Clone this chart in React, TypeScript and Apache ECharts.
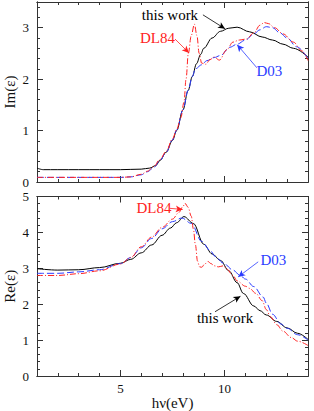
import React, { useEffect, useRef } from "react";
import * as echarts from "echarts";

// ---------- Data: top panel, Im(eps) ----------
const IM_TW_X = [1, 1.3, 2, 3, 4, 5, 6, 6.4, 6.7, 6.9, 7.2, 7.5, 7.7, 8.0, 8.25, 8.45, 8.65, 8.85, 9.0, 9.4, 9.8, 10.2, 10.6, 11.2, 11.8, 12.3, 12.8, 13.3, 14];
const IM_TW_Y = [0.27, 0.24, 0.24, 0.24, 0.24, 0.24, 0.25, 0.27, 0.32, 0.42, 0.58, 0.81, 1.0, 1.4, 1.78, 2.05, 2.3, 2.48, 2.6, 2.8, 2.93, 2.99, 3.01, 2.92, 2.82, 2.76, 2.68, 2.6, 2.43];

const IM_D03_X = [1, 3, 5, 5.5, 6.0, 6.3, 6.6, 6.9, 7.2, 7.5, 7.7, 8.0, 8.25, 8.45, 8.6, 8.9, 9.15, 9.5, 9.8, 10.25, 10.6, 11.0, 11.4, 11.7, 12.0, 12.3, 12.65, 13.0, 13.45, 14];
const IM_D03_Y = [0.09, 0.09, 0.09, 0.1, 0.14, 0.2, 0.28, 0.42, 0.58, 0.82, 1.01, 1.4, 1.78, 2.05, 2.2, 2.28, 2.36, 2.42, 2.46, 2.62, 2.68, 2.76, 2.88, 2.96, 3.02, 3.0, 2.9, 2.8, 2.63, 2.4];

const IM_DL84_X = [1, 3, 5, 5.5, 6.0, 6.3, 6.6, 6.9, 7.2, 7.5, 7.7, 7.9, 8.05, 8.15, 8.26, 8.4, 8.55, 8.67, 8.78, 8.9, 9.1, 9.3, 9.5, 9.75, 10.1, 10.4, 10.7, 11.05, 11.4, 11.7, 11.9, 12.1, 12.4, 12.8, 13.3, 13.7, 14];
const IM_DL84_Y = [0.09, 0.09, 0.09, 0.1, 0.15, 0.21, 0.3, 0.44, 0.6, 0.84, 1.02, 1.25, 1.55, 2.0, 2.5, 2.85, 3.07, 2.85, 2.5, 2.31, 2.29, 2.38, 2.43, 2.37, 2.57, 2.72, 2.76, 2.78, 2.9, 3.05, 3.1, 3.08, 3.0, 2.88, 2.72, 2.55, 2.36];

// ---------- Data: bottom panel, Re(eps) ----------
const RE_TW_X = [1, 2, 3, 4, 5, 5.5, 6.0, 6.5, 7.0, 7.4, 7.7, 8.05, 8.5, 9.0, 9.4, 9.8, 10.2, 10.6, 10.9, 11.4, 11.7, 12.0, 12.5, 13.0, 13.5, 14];
const RE_TW_Y = [2.99, 2.95, 2.96, 3.02, 3.14, 3.25, 3.43, 3.65, 3.92, 4.12, 4.27, 4.44, 4.25, 3.67, 3.4, 3.22, 2.93, 2.6, 2.3, 1.95, 1.82, 1.7, 1.52, 1.34, 1.19, 1.02];

const RE_D03_X = [1, 2, 3, 4, 5, 5.5, 6.0, 6.5, 7.0, 7.5, 7.95, 8.4, 8.9, 9.3, 9.55, 9.95, 10.4, 10.75, 11.0, 11.4, 11.85, 12.0, 12.3, 12.7, 13.0, 13.5, 14];
const RE_D03_Y = [2.86, 2.86, 2.9, 2.96, 3.13, 3.3, 3.57, 3.83, 4.1, 4.3, 4.4, 4.25, 3.75, 3.5, 3.33, 3.14, 2.95, 2.8, 2.7, 2.49, 2.2, 2.03, 1.72, 1.45, 1.33, 1.15, 1.0];

const RE_DL84_X = [1, 2, 3, 4, 5, 5.5, 6.0, 6.5, 7.0, 7.5, 7.8, 8.0, 8.1, 8.25, 8.4, 8.5, 8.6, 8.7, 8.8, 8.9, 9.05, 9.2, 9.35, 9.5, 9.7, 9.95, 10.1, 10.4, 10.6, 11.0, 11.2, 11.5, 11.8, 12.0, 12.2, 12.5, 12.8, 13.2, 13.5, 14];
const RE_DL84_Y = [2.8, 2.8, 2.85, 2.93, 3.12, 3.3, 3.6, 3.87, 4.14, 4.37, 4.55, 4.72, 4.81, 4.7, 4.45, 4.1, 3.65, 3.2, 3.04, 3.03, 3.12, 3.19, 3.13, 3.07, 3.04, 3.07, 2.98, 2.8, 2.65, 2.5, 2.44, 2.3, 2.1, 1.85, 1.65, 1.43, 1.25, 1.07, 0.97, 0.85];

// ---------- Axes ----------
const X_MIN = 1;
const X_MAX = 14;
const X_MAJOR = [5, 10];
const IM_MAX = 3.5;
const RE_MAX = 5;
const IM_MAJOR = [0, 1, 2, 3];
const RE_MAJOR = [0, 1, 2, 3, 4, 5];

// ---------- Annotations (data coords): [text, textX, textY, arrowFromX, arrowFromY, arrowToX, arrowToY] ----------
type Note = [string, number, number, number, number, number, number];
const IM_LABELS: Note[] = [
  ["this work", 7.38, 3.25, 8.96, 3.25, 10.02, 2.98],
  ["DL84", 6.78, 2.8, 7.62, 2.78, 8.29, 2.51],
  ["D03", 12.15, 2.16, 11.55, 2.22, 10.6, 2.67],
];
const RE_LABELS: Note[] = [
  ["this work", 10.02, 1.62, 9.54, 1.79, 10.76, 2.22],
  ["DL84", 6.61, 4.67, 7.38, 4.67, 7.99, 4.64],
  ["D03", 12.34, 3.23, 11.61, 3.18, 10.65, 2.76],
];

const BLACK = "#000000";
const BLUE = "#2b3cff";
const RED = "#ff2222";
const AXIS = "#333333";
const FONT = "'Liberation Serif', 'DejaVu Serif', serif";

function zip(xs: number[], ys: number[]) {
  return xs.map((x, i) => [x, ys[i]]);
}

function range(step: number, max: number) {
  const out: number[] = [];
  const n = Math.round(max / step);
  for (let i = 0; i <= n; i++) out.push(+(i * step).toFixed(4));
  return out;
}

function xAxes(grid: number, labels: boolean) {
  const base = {
    gridIndex: grid,
    type: "value",
    min: X_MIN,
    max: X_MAX,
    splitLine: { show: false },
    axisLine: { show: true, onZero: false, lineStyle: { color: AXIS, width: 1 } },
  };
  const minorVals = range(1, X_MAX).filter((v) => v >= X_MIN);
  return [
    {
      ...base,
      position: "bottom",
      axisTick: { show: true, inside: true, length: 6, customValues: X_MAJOR, lineStyle: { color: AXIS } },
      axisLabel: {
        show: labels,
        customValues: X_MAJOR,
        margin: 6,
        color: "#111",
        fontFamily: FONT,
        fontSize: 13,
      },
      name: labels ? "h\u03bd(eV)" : "",
      nameLocation: "middle",
      nameGap: 19,
      nameMoveOverlap: false,
      nameTextStyle: { color: "#111", fontFamily: FONT, fontSize: 15 },
    },
    {
      ...base,
      position: "bottom",
      axisTick: { show: true, inside: true, length: 3, customValues: minorVals, lineStyle: { color: AXIS } },
      axisLabel: { show: false },
    },
    {
      ...base,
      position: "top",
      axisTick: { show: true, inside: true, length: 6, customValues: X_MAJOR, lineStyle: { color: AXIS } },
      axisLabel: { show: false },
    },
    {
      ...base,
      position: "top",
      axisTick: { show: true, inside: true, length: 3, customValues: minorVals, lineStyle: { color: AXIS } },
      axisLabel: { show: false },
    },
  ];
}

function yAxes(grid: number, max: number, major: number[], name: string) {
  const base = {
    gridIndex: grid,
    type: "value",
    min: 0,
    max,
    splitLine: { show: false },
    axisLine: { show: true, onZero: false, lineStyle: { color: AXIS, width: 1 } },
  };
  const minorVals = range(0.2, max);
  return [
    {
      ...base,
      position: "left",
      axisTick: { show: true, inside: true, length: 6, customValues: major, lineStyle: { color: AXIS } },
      axisLabel: {
        show: true,
        customValues: major,
        margin: 8,
        color: "#111",
        fontFamily: FONT,
        fontSize: 13,
      },
      name,
      nameLocation: "middle",
      nameGap: 20,
      nameRotate: 90,
      nameMoveOverlap: false,
      nameTextStyle: { color: "#111", fontFamily: FONT, fontSize: 15 },
    },
    {
      ...base,
      position: "left",
      axisTick: { show: true, inside: true, length: 3, customValues: minorVals, lineStyle: { color: AXIS } },
      axisLabel: { show: false },
    },
    {
      ...base,
      position: "right",
      axisTick: { show: true, inside: true, length: 6, customValues: major, lineStyle: { color: AXIS } },
      axisLabel: { show: false },
    },
    {
      ...base,
      position: "right",
      axisTick: { show: true, inside: true, length: 3, customValues: minorVals, lineStyle: { color: AXIS } },
      axisLabel: { show: false },
    },
  ];
}

function lineSeries(
  name: string,
  xs: number[],
  ys: number[],
  axisBase: number,
  color: string,
  dash: any,
  label: Note
) {
  const [, , , fx, fy, ax, ay] = label;
  return {
    name,
    type: "line",
    xAxisIndex: axisBase,
    yAxisIndex: axisBase,
    data: zip(xs, ys),
    showSymbol: false,
    symbol: "none",
    smooth: 0.35,
    smoothMonotone: "x",
    lineStyle: { color, width: 1, type: dash },
    itemStyle: { color },
    z: 3,
    markLine: {
      silent: true,
      symbol: ["none", "arrow"],
      symbolSize: [5, 7],
      label: { show: false },
      lineStyle: { color, width: 0.8, type: "solid" },
      data: [[{ coord: [fx, fy] }, { coord: [ax, ay] }]],
    },
  };
}

export default function App() {
  const ref = useRef<HTMLDivElement>(null);
  useEffect(() => {
    if (!ref.current) return;
    const chart = echarts.init(ref.current, null, { renderer: "svg" });
    const option: any = {
      animation: false,
      backgroundColor: "#ffffff",
      textStyle: { fontFamily: FONT },
      grid: [
        { left: 37, top: 2, width: 271, height: 180, outerBoundsMode: "none" },
        { left: 37, top: 196.5, width: 271, height: 179.5, outerBoundsMode: "none" },
      ],
      xAxis: [...xAxes(0, false), ...xAxes(1, true)],
      yAxis: [
        ...yAxes(0, IM_MAX, IM_MAJOR, "Im(\u03b5)"),
        ...yAxes(1, RE_MAX, RE_MAJOR, "Re(\u03b5)"),
      ],
      series: [
        lineSeries("this work Im", IM_TW_X, IM_TW_Y, 0, BLACK, "solid", IM_LABELS[0]),
        lineSeries("D03 Im", IM_D03_X, IM_D03_Y, 0, BLUE, [7, 3], IM_LABELS[2]),
        lineSeries("DL84 Im", IM_DL84_X, IM_DL84_Y, 0, RED, [6, 2, 1, 2], IM_LABELS[1]),
        lineSeries("this work Re", RE_TW_X, RE_TW_Y, 4, BLACK, "solid", RE_LABELS[0]),
        lineSeries("D03 Re", RE_D03_X, RE_D03_Y, 4, BLUE, [7, 3], RE_LABELS[2]),
        lineSeries("DL84 Re", RE_DL84_X, RE_DL84_Y, 4, RED, [6, 2, 1, 2], RE_LABELS[1]),
      ],
    };
    chart.setOption(option);

    const colors = [BLACK, RED, BLUE];
    const texts: any[] = [];
    const place = (notes: Note[], grid: number) => {
      notes.forEach((n, i) => {
        const p = chart.convertToPixel({ gridIndex: grid } as any, [n[1], n[2]]) as number[];
        texts.push({
          type: "text",
          x: p[0],
          y: p[1],
          z: 10,
          style: {
            text: n[0],
            fill: colors[i],
            font: `15px ${FONT}`,
            align: "center",
            verticalAlign: "middle",
          },
        });
      });
    };
    place(IM_LABELS, 0);
    place(RE_LABELS, 1);
    chart.setOption({ graphic: texts });
    return () => chart.dispose();
  }, []);
  return (
    <div
      ref={ref}
      style={{ position: "fixed", left: 0, top: 0, width: 314, height: 411, background: "#fff" }}
    />
  );
}
